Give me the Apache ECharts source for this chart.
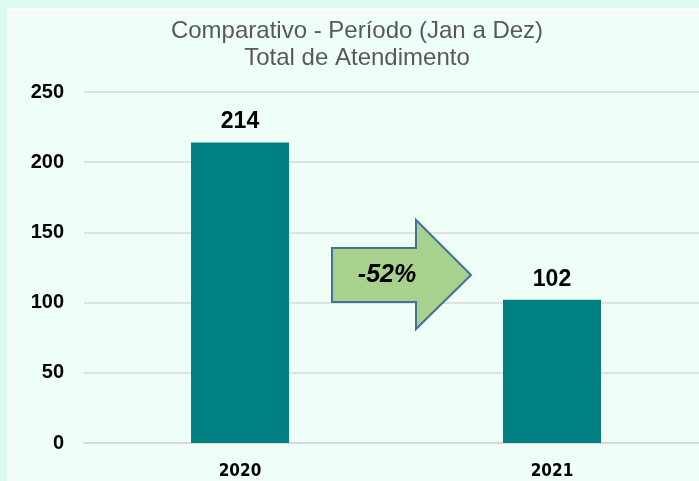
<!DOCTYPE html>
<html>
<head>
<meta charset="utf-8">
<script src="https://cdn.jsdelivr.net/npm/echarts@6/dist/echarts.min.js"></script>
<style>
  html, body { margin: 0; padding: 0; }
  #chart { width: 699px; height: 481px; }
</style>
</head>
<body>
<div id="chart"></div>
<script>
// dados do gráfico
var anos = ['2020', '2021'];
var atendimentos = [214, 102];
var variacao = '-52%';
var titulo = 'Comparativo - Período (Jan a Dez)\nTotal de Atendimento';

var myChart = echarts.init(document.getElementById('chart'));

var option = {
  backgroundColor: '#ddfaee',
  animation: false,
  title: {
    text: titulo,
    left: 352,
    top: 13,
    textAlign: 'center',
    textStyle: {
      fontFamily: 'Arial, "Liberation Sans", sans-serif',
      fontSize: 24,
      fontWeight: 'normal',
      color: '#595959',
      lineHeight: 27
    }
  },
  graphic: [
    {
      type: 'rect',
      z: -10,
      silent: true,
      shape: { x: 8, y: 9, width: 700, height: 480 },
      style: { fill: '#effef6', stroke: '#ffffff', lineWidth: 2 }
    },
    {
      // seta de variação
      type: 'polygon',
      z: 100,
      shape: {
        points: [[332, 248], [416, 248], [416, 220], [471, 275], [416, 329], [416, 302], [332, 302]]
      },
      style: { fill: '#a9d18e', stroke: '#41719c', lineWidth: 2 }
    },
    {
      type: 'text',
      z: 101,
      x: 387,
      y: 275,
      style: {
        text: variacao,
        fontFamily: 'Arial, "Liberation Sans", sans-serif',
        fontSize: 25,
        fontWeight: 'bold',
        fontStyle: 'italic',
        fill: '#000000',
        align: 'center',
        verticalAlign: 'middle'
      }
    }
  ],
  grid: {
    left: 84,
    right: -9,
    top: 92,
    bottom: 38,
    containLabel: false,
    outerBoundsMode: 'none'
  },
  xAxis: {
    type: 'category',
    data: anos,
    axisLine: { show: true, lineStyle: { color: '#d9d9d9', width: 2 } },
    axisTick: { show: false },
    axisLabel: {
      margin: 20,
      fontFamily: '"DejaVu Sans Condensed", "DejaVu Sans", sans-serif',
      fontWeight: 'bold',
      fontSize: 17,
      color: '#000000'
    }
  },
  yAxis: {
    type: 'value',
    min: 0,
    max: 250,
    interval: 50,
    axisLine: { show: false },
    axisTick: { show: false },
    splitLine: { lineStyle: { color: '#d9d9d9', width: 1.5 } },
    axisLabel: {
      margin: 20,
      fontFamily: 'Arial, "Liberation Sans", sans-serif',
      fontWeight: 'bold',
      fontSize: 20,
      color: '#000000'
    }
  },
  series: [
    {
      type: 'bar',
      data: atendimentos,
      barWidth: 98,
      itemStyle: { color: '#008080' },
      label: {
        show: true,
        position: 'top',
        distance: 9,
        fontFamily: 'Arial, "Liberation Sans", sans-serif',
        fontWeight: 'bold',
        fontSize: 23,
        color: '#000000'
      }
    }
  ]
};

myChart.setOption(option);
</script>
</body>
</html>
